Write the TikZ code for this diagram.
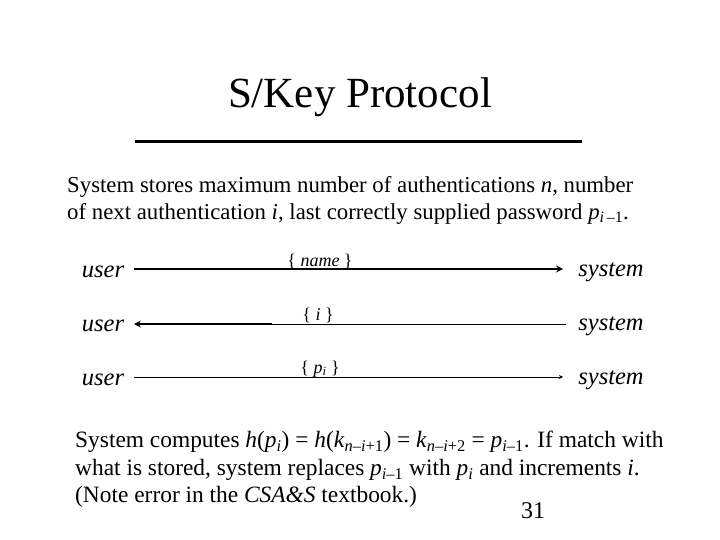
\documentclass[tikz,border=0pt]{standalone}
\usepackage{fontspec}
\setmainfont{Liberation Serif}
\begin{document}
\begin{tikzpicture}[x=1pt,y=-1pt,
  body/.style={anchor=west,inner sep=0pt,font=\fontsize{22.8}{26}\selectfont},
  body2/.style={anchor=west,inner sep=0pt,font=\fontsize{23.4}{26}\selectfont},
  actor/.style={inner sep=0pt,font=\fontsize{24.5}{28}\selectfont\itshape},
  msg/.style={inner sep=0pt,font=\fontsize{18}{20}\selectfont},
  thin/.style={line width=0.8pt},
  thick/.style={line width=2pt}]
\useasboundingbox (0,0) rectangle (720,540);
\node[inner sep=0pt,font=\fontsize{43}{46}\selectfont] (title) at (360,97) {S/Key Protocol};
\draw[line width=3pt] (135,142) -- (582,142);
\node[body] (p1) at (67,187) {System stores maximum number of authentications \textit{n}, number};
\node[body] (p2) at (67,214) {of next authentication \textit{i}, last correctly supplied password \textit{p}\textsubscript{\textit{i}\,--1}.};
\foreach \n/\y in {1/272,2/326,3/380}{
  \node[actor] (u\n) at (103,\y) {user};
  \node[actor] (s\n) at (611,\y) {system};
}
\coordinate (a1) at (134,269); \coordinate (b1) at (563,269);
\coordinate (a2) at (134,324); \coordinate (m2) at (272,324); \coordinate (b2) at (566,324);
\coordinate (a3) at (134,377); \coordinate (b3) at (563,377);
\draw[thick,-stealth] (a1) -- (b1);
\draw[thin] (b2) -- (m2);
\draw[thick,-stealth] (m2) -- (a2);
\draw[thin,-stealth] (a3) -- (b3);
\node[msg] (l1) at (320,261) {\{ \textit{name} \}};
\node[msg] (l2) at (318,315) {\{ \textit{i} \}};
\node[msg] (l3) at (320,369) {\{ \textit{p}\textsubscript{\textit{i}} \}};
\node[body2] (q1) at (75,442) {System computes \textit{h}(\textit{p}\textsubscript{\textit{i}}) = \textit{h}(\textit{k}\textsubscript{\textit{n}--\textit{i}+1}) = \textit{k}\textsubscript{\textit{n}--\textit{i}+2} = \textit{p}\textsubscript{\textit{i}--1}. If match with};
\node[body2] (q2) at (75,470) {what is stored, system replaces \textit{p}\textsubscript{\textit{i}--1} with \textit{p}\textsubscript{\textit{i}} and increments \textit{i}.};
\node[body2] (q3) at (75,497) {(Note error in the \textit{CSA\&S} textbook.)};
\node[inner sep=0pt,anchor=west,font=\fontsize{24}{26}\selectfont] (num) at (521,511) {31};
\end{tikzpicture}
\end{document}
